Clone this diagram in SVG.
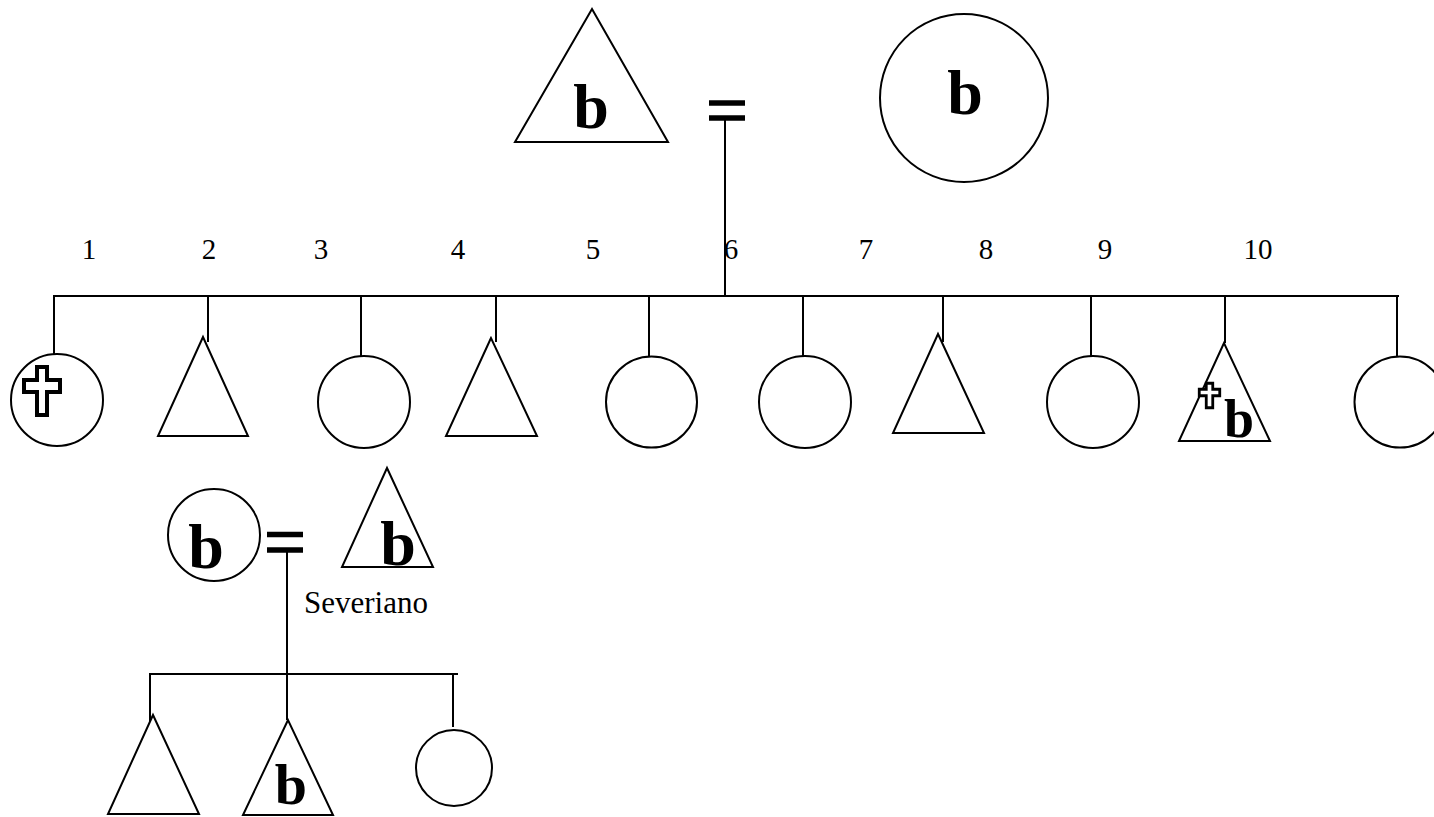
<svg xmlns="http://www.w3.org/2000/svg" width="1434" height="817" viewBox="0 0 1434 817">
<style>
.s{fill:none;stroke:#000;stroke-width:2}
.f{fill:#fff;stroke:#000;stroke-width:2}
.eq{stroke:#000;stroke-width:5.5}
.b{font-family:"Liberation Serif","Times New Roman",serif;font-weight:bold;font-size:64px;text-anchor:middle;fill:#000}
.n{font-family:"Liberation Serif","Times New Roman",serif;font-size:29px;text-anchor:middle;fill:#000}
.x{fill:#fff;stroke:#000}
</style>
<rect width="1434" height="817" fill="#fff"/>
<g id="connectors">
<line class="eq" x1="709" y1="103" x2="745" y2="103"/>
<line class="eq" x1="709" y1="118" x2="745" y2="118"/>
<line class="s" x1="725" y1="118" x2="725" y2="296"/>
<line class="s" x1="53" y1="296" x2="1399" y2="296"/>
<line class="s" x1="54" y1="296" x2="54" y2="354"/>
<line class="s" x1="208" y1="296" x2="208" y2="342"/>
<line class="s" x1="361" y1="296" x2="361" y2="356"/>
<line class="s" x1="496" y1="296" x2="496" y2="342"/>
<line class="s" x1="649" y1="296" x2="649" y2="357"/>
<line class="s" x1="803" y1="296" x2="803" y2="357"/>
<line class="s" x1="943" y1="296" x2="943" y2="342"/>
<line class="s" x1="1091" y1="296" x2="1091" y2="357"/>
<line class="s" x1="1225" y1="296" x2="1225" y2="343"/>
<line class="s" x1="1397" y1="296" x2="1397" y2="357"/>
<line class="eq" x1="267" y1="534.5" x2="303" y2="534.5"/>
<line class="eq" x1="267" y1="550" x2="303" y2="550"/>
<line class="s" x1="287" y1="550" x2="287" y2="720"/>
<line class="s" x1="149" y1="674" x2="458" y2="674"/>
<line class="s" x1="150" y1="674" x2="150" y2="725"/>
<line class="s" x1="453" y1="674" x2="453" y2="727"/>
</g>
<g id="labels">
<text class="n" x="89" y="259">1</text>
<text class="n" x="209" y="259">2</text>
<text class="n" x="321" y="259">3</text>
<text class="n" x="458" y="259">4</text>
<text class="n" x="593" y="259">5</text>
<text class="n" x="731" y="259">6</text>
<text class="n" x="866" y="259">7</text>
<text class="n" x="986" y="259">8</text>
<text class="n" x="1105" y="259">9</text>
<text class="n" x="1258" y="259">10</text>
</g>
<g id="father">
<polygon class="f" points="592,9 515,142 668,142"/>
<text class="b" x="591" y="128">b</text>
</g>
<g id="mother">
<circle class="f" cx="964" cy="98" r="84"/>
<text class="b" x="965" y="114">b</text>
</g>
<g id="child1">
<circle class="f" cx="57" cy="400" r="46"/>
<path class="x" stroke-width="4" d="M37,367H47V380H60V392H47V415H37V392H24V380H37Z"/>
</g>
<g id="child2"><polygon class="f" points="203,337 158,436 248,436"/></g>
<g id="child3"><circle class="f" cx="364" cy="402" r="46"/></g>
<g id="child4"><polygon class="f" points="491,338 446,436 537,436"/></g>
<g id="child5"><circle class="f" cx="651.5" cy="402" r="45.5"/></g>
<g id="child6"><circle class="f" cx="805" cy="402" r="46"/></g>
<g id="child7"><polygon class="f" points="938,334 893,433 984,433"/></g>
<g id="child8"><circle class="f" cx="1093" cy="402" r="46"/></g>
<g id="child9">
<polygon class="f" points="1224,343 1179,441 1270,441"/>
<path class="x" stroke-width="2.8" d="M1206.25,383.25H1212.75V389.25H1219.75V395.75H1212.75V407.75H1206.25V395.75H1199.25V389.25H1206.25Z"/>
<text class="b" x="1239" y="437" style="font-size:54px">b</text>
</g>
<g id="child10"><circle class="f" cx="1400" cy="402" r="45.5"/></g>
<g id="spouse-wife">
<circle class="f" cx="214" cy="535" r="46"/>
<text class="b" x="206" y="568">b</text>
</g>
<g id="severiano">
<polygon class="f" points="387,468 342,567 433,567"/>
<text class="b" x="398" y="565">b</text>
<text class="n" x="366" y="613" style="font-size:31px">Severiano</text>
</g>
<g id="grandchild1"><polygon class="f" points="153,715 108,814 199,814"/></g>
<g id="grandchild2">
<polygon class="f" points="288,720 243,815 333,815"/>
<text class="b" x="291" y="804" style="font-size:58px">b</text>
</g>
<g id="grandchild3"><circle class="f" cx="454" cy="768" r="38"/></g>
</svg>
